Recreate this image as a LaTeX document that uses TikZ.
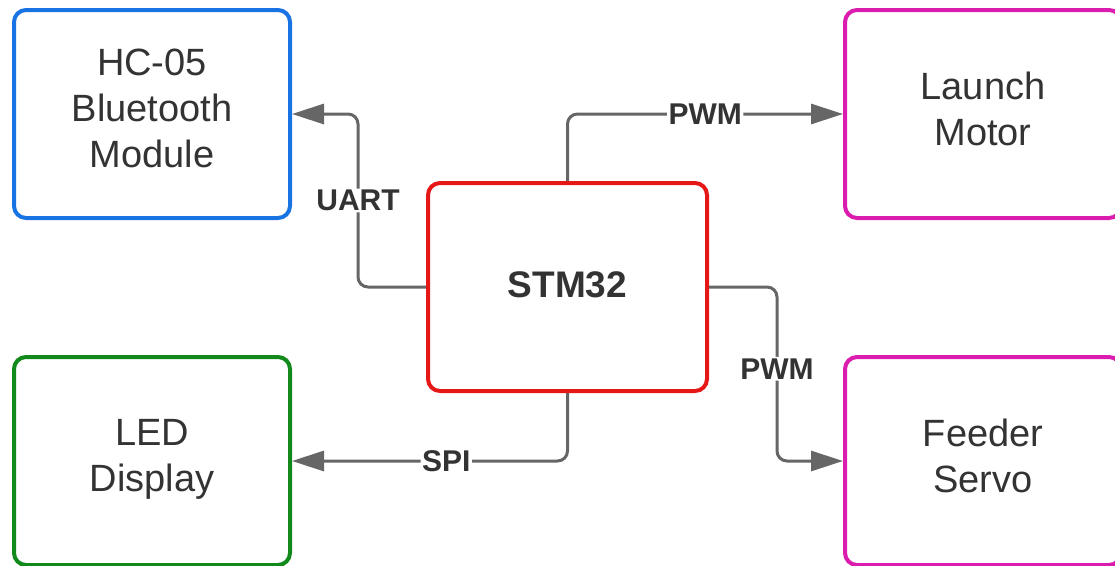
\documentclass[tikz,border=0pt]{standalone}
\usepackage{fontspec}
\setmainfont{Liberation Sans}
\usetikzlibrary{positioning,arrows.meta}

\definecolor{hcblue}{HTML}{1A73E3}
\definecolor{ledgreen}{HTML}{118A1B}
\definecolor{motpink}{HTML}{DA1DAE}
\definecolor{mcured}{HTML}{E51717}
\definecolor{wiregray}{HTML}{666666}
\definecolor{txtgray}{HTML}{333333}

\tikzset{
  block/.style={draw, line width=4pt, rounded corners=12pt, minimum width=276pt,
    minimum height=208pt, inner sep=0pt, align=center, text=txtgray,
    text depth=11pt, font=\fontsize{38}{46}\selectfont},
  wire/.style={draw=wiregray, line width=3pt, rounded corners=10pt,
    -{Triangle[length=32pt,width=20pt]}},
  tag/.style={fill=white, inner sep=1.5pt, text=txtgray,
    font=\fontsize{30}{32}\selectfont\bfseries}
}

\begin{document}
\begin{tikzpicture}[x=1pt,y=-1pt]

\useasboundingbox (0,0) rectangle (1115,565);

\node[block, draw=hcblue] (hc) at (152,114) {HC-05\\Bluetooth\\Module};
\node[block, draw=ledgreen] (led) at (152,461) {LED\\Display};
\node[block, draw=motpink] (motor) at (983,114) {Launch\\Motor};
\node[block, draw=motpink] (servo) at (983,461) {Feeder\\Servo};
\node[block, draw=mcured, minimum width=279pt, text depth=4pt, font=\fontsize{37}{44}\selectfont\bfseries] (stm) at (567.5,287) {STM32};

\draw[wire] (stm.west) -- ++(-68,0) |- node[tag, pos=0.25] {UART} (hc.east);
\draw[wire] (stm.north) |- node[tag, pos=0.75] {PWM} (motor.west);
\draw[wire] (stm.east) -- ++(68,0) |- node[tag, pos=0.235] {PWM} (servo.west);
\draw[wire] (stm.south) |- node[tag, pos=0.72] {SPI} (led.east);

\end{tikzpicture}
\end{document}
